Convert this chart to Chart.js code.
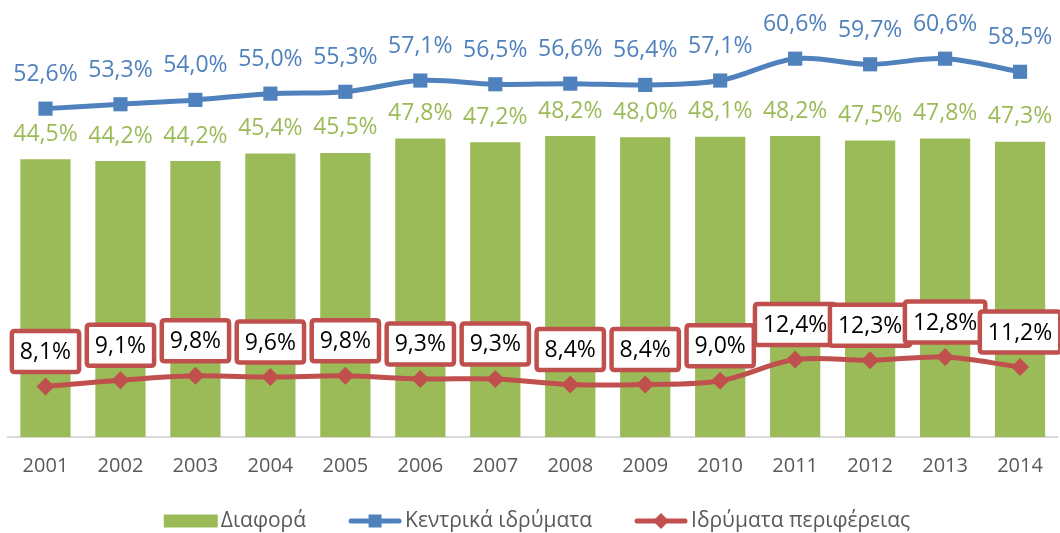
<!DOCTYPE html>
<html>
<head>
<meta charset="utf-8">
<script src="https://cdn.jsdelivr.net/npm/chart.js@4/dist/chart.umd.min.js"></script>
<style>
  html, body { margin: 0; padding: 0; background: #fff; }
  #wrap { width: 1060px; height: 533px; position: relative; }
</style>
</head>
<body>
<div id="wrap"><canvas id="chart"></canvas></div>
<script>
const years      = ['2001','2002','2003','2004','2005','2006','2007','2008','2009','2010','2011','2012','2013','2014'];
const diafora    = [44.5, 44.2, 44.2, 45.4, 45.5, 47.8, 47.2, 48.2, 48.0, 48.1, 48.2, 47.5, 47.8, 47.3];
const kentrika   = [52.6, 53.3, 54.0, 55.0, 55.3, 57.1, 56.5, 56.6, 56.4, 57.1, 60.6, 59.7, 60.6, 58.5];
const perifereia = [8.1, 9.1, 9.8, 9.6, 9.8, 9.3, 9.3, 8.4, 8.4, 9.0, 12.4, 12.3, 12.8, 11.2];

const GREEN = '#9BBB59', BLUE = '#4F81BD', RED = '#C0504D';
const FONT = '"Open Sans", "Liberation Sans", sans-serif';

const pct = v => v.toFixed(1).replace('.', ',') + '%';

function roundRect(ctx, x, y, w, h, r) {
  ctx.beginPath();
  ctx.moveTo(x + r, y); ctx.lineTo(x + w - r, y); ctx.quadraticCurveTo(x + w, y, x + w, y + r);
  ctx.lineTo(x + w, y + h - r); ctx.quadraticCurveTo(x + w, y + h, x + w - r, y + h);
  ctx.lineTo(x + r, y + h); ctx.quadraticCurveTo(x, y + h, x, y + h - r);
  ctx.lineTo(x, y + r); ctx.quadraticCurveTo(x, y, x + r, y);
  ctx.closePath();
}

// value labels: green above bars, blue above squares, boxed red above diamonds
const valueLabels = {
  id: 'valueLabels',
  afterDatasetsDraw(chart) {
    const ctx = chart.ctx;
    ctx.save();
    ctx.font = '23px ' + FONT;
    ctx.textAlign = 'center'; ctx.textBaseline = 'middle';
    chart.data.datasets.forEach((ds, di) => {
      const meta = chart.getDatasetMeta(di);
      meta.data.forEach((el, i) => {
        const txt = pct(ds.data[i]);
        if (ds.type === 'bar') {
          ctx.fillStyle = GREEN;
          ctx.fillText(txt, el.x, el.y - 25);
        } else if (ds.label === 'Κεντρικά ιδρύματα') {
          ctx.fillStyle = BLUE;
          ctx.fillText(txt, el.x, el.y - 34);
        } else {
          const w = ctx.measureText(txt).width + 16, h = 41, cy = el.y - 35;
          roundRect(ctx, el.x - w / 2, cy - h / 2, w, h, 3);
          ctx.fillStyle = '#fff'; ctx.fill();
          ctx.lineWidth = 4.5; ctx.strokeStyle = RED; ctx.stroke();
          ctx.fillStyle = '#000';
          ctx.fillText(txt, el.x, cy + 1);
        }
      });
    });
    ctx.restore();
  }
};

// legend row under the axis
const bottomLegend = {
  id: 'bottomLegend',
  afterDraw(chart) {
    const ctx = chart.ctx;
    const items = [
      { text: 'Διαφορά', kind: 'rect', color: GREEN },
      { text: 'Κεντρικά ιδρύματα', kind: 'square', color: BLUE },
      { text: 'Ιδρύματα περιφέρειας', kind: 'diamond', color: RED },
    ];
    ctx.save();
    ctx.font = '21px ' + FONT;
    ctx.textBaseline = 'middle';
    const symW = 54, gapT = 3, gapI = 42, y = 521;
    const widths = items.map(it => symW + gapT + ctx.measureText(it.text).width);
    const total = widths.reduce((a, b) => a + b, 0) + gapI * (items.length - 1);
    let x = 537 - total / 2;
    items.forEach((it, k) => {
      ctx.fillStyle = it.color; ctx.strokeStyle = it.color;
      if (it.kind === 'rect') {
        ctx.fillRect(x, y - 6.5, symW, 13);
      } else {
        ctx.lineWidth = 5; ctx.lineCap = 'round';
        ctx.beginPath(); ctx.moveTo(x + 3, y); ctx.lineTo(x + symW - 3, y); ctx.stroke();
        const cx = x + symW / 2;
        if (it.kind === 'square') ctx.fillRect(cx - 6.5, y - 6.5, 13, 13);
        else { ctx.beginPath(); ctx.moveTo(cx, y - 8); ctx.lineTo(cx + 8, y); ctx.lineTo(cx, y + 8); ctx.lineTo(cx - 8, y); ctx.closePath(); ctx.fill(); }
      }
      ctx.fillStyle = '#595959';
      ctx.fillText(it.text, x + symW + gapT, y);
      x += widths[k] + gapI;
    });
    ctx.restore();
  }
};

new Chart(document.getElementById('chart'), {
  data: {
    labels: years,
    datasets: [
      { type: 'line', label: 'Κεντρικά ιδρύματα', data: kentrika, borderColor: BLUE, backgroundColor: BLUE,
        borderWidth: 5, tension: 0.35, pointStyle: 'rect', pointRadius: 10, pointBorderWidth: 0, order: 1 },
      { type: 'line', label: 'Ιδρύματα περιφέρειας', data: perifereia, borderColor: RED, backgroundColor: RED,
        borderWidth: 5, tension: 0.35, pointStyle: 'rectRot', pointRadius: 9, pointBorderWidth: 0, order: 2 },
      { type: 'bar', label: 'Διαφορά', data: diafora, backgroundColor: GREEN,
        barPercentage: 0.67, categoryPercentage: 1, order: 3 },
    ]
  },
  options: {
    responsive: true, maintainAspectRatio: false, animation: false,
    layout: { autoPadding: false, padding: { left: 8, right: 2, top: 0, bottom: 0 } },
    plugins: { legend: { display: false }, tooltip: { enabled: false } },
    scales: {
      x: {
        grid: { display: false, drawTicks: false },
        border: { display: true, color: '#d9d9d9', width: 2 },
        ticks: { color: '#595959', font: { family: FONT, size: 20 }, padding: 17 },
        afterFit: s => { s.height = 96; }
      },
      y: { display: false, min: 0, max: 70 }
    }
  },
  plugins: [valueLabels, bottomLegend]
});
</script>
</body>
</html>
